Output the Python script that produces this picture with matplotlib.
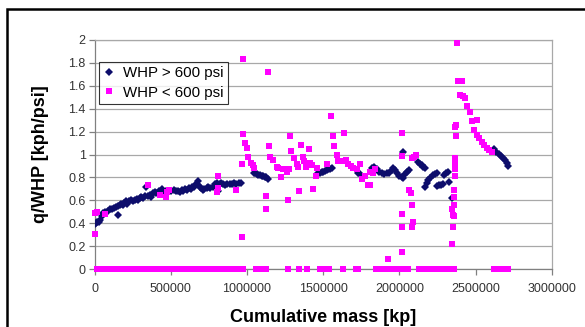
import matplotlib
matplotlib.use("Agg")
import matplotlib.pyplot as plt
from matplotlib.patches import Rectangle

plt.rcParams['font.family'] = ['Liberation Sans', 'DejaVu Sans']

# WHP > 600 psi readings: cumulative mass [kp] and q/WHP [kph/psi]
high_mass = [2000, 8000, 15000, 25000, 35000, 45000, 55000, 70000, 85000, 100000,
             115000, 125000, 140000, 150000, 155000, 165000, 175000, 185000, 195000, 205000,
             215000, 225000, 240000, 250000, 262000, 275000, 285000, 295000, 305000, 315000,
             330000, 340000, 350000, 360000, 370000, 385000, 395000, 405000, 420000, 435000,
             445000, 455000, 470000, 480000, 500000, 520000, 535000, 545000, 560000, 570000,
             580000, 595000, 605000, 620000, 630000, 640000, 650000, 660000, 670000, 680000,
             690000, 700000, 710000, 720000, 735000, 745000, 760000, 775000, 790000, 800000,
             810000, 820000, 830000, 840000, 855000, 870000, 885000, 900000, 915000, 930000,
             945000, 960000,
             1046000, 1055000, 1065000, 1075000, 1085000, 1095000, 1105000, 1115000, 1125000, 1135000,
             1468000, 1479000, 1490000, 1501000, 1512000, 1523000, 1533000, 1544000, 1555000,
             1730000, 1740000,
             1819000, 1834000, 1851000, 1869000, 1884000, 1900000, 1917000, 1935000, 1950000, 1961000,
             1972000, 1983000, 2000000, 2016000, 2027000, 2027000, 2038000, 2053000, 2066000,
             2125000, 2136000, 2147000, 2158000, 2169000,
             2169000, 2180000, 2191000, 2202000, 2219000, 2235000, 2246000,
             2246000, 2257000, 2272000, 2285000, 2294000, 2307000, 2318000, 2325000, 2344000,
             2618000, 2635000, 2651000, 2666000, 2679000, 2694000, 2705000, 2716000]
high_ratio = [0.39, 0.40, 0.41, 0.41, 0.43, 0.46, 0.49, 0.50, 0.51, 0.52,
              0.52, 0.53, 0.54, 0.55, 0.47, 0.56, 0.57, 0.56, 0.58, 0.59,
              0.57, 0.59, 0.60, 0.59, 0.60, 0.61, 0.60, 0.62, 0.63, 0.62,
              0.64, 0.72, 0.64, 0.65, 0.63, 0.66, 0.67, 0.66, 0.68, 0.67,
              0.70, 0.67, 0.68, 0.68, 0.68, 0.69, 0.68, 0.68, 0.67, 0.69,
              0.68, 0.70, 0.69, 0.71, 0.70, 0.72, 0.72, 0.73, 0.74, 0.77,
              0.72, 0.71, 0.69, 0.70, 0.71, 0.72, 0.71, 0.72, 0.74, 0.75,
              0.68, 0.74, 0.75, 0.74, 0.73, 0.74, 0.74, 0.74, 0.75, 0.74,
              0.75, 0.75,
              0.84, 0.835, 0.83, 0.825, 0.82, 0.815, 0.81, 0.80, 0.80, 0.79,
              0.836, 0.842, 0.845, 0.85, 0.859, 0.865, 0.871, 0.874, 0.879,
              0.84, 0.83,
              0.879, 0.888, 0.871, 0.85, 0.835, 0.829, 0.835, 0.841, 0.865, 0.885,
              0.865, 0.835, 0.815, 0.806, 0.792, 1.025, 0.829, 0.85, 0.865,
              0.934, 0.92, 0.905, 0.891, 0.879,
              0.719, 0.748, 0.777, 0.797, 0.817, 0.829, 0.835,
              0.725, 0.734, 0.731, 0.742, 0.82, 0.841, 0.85, 0.763, 0.617,
              1.045, 1.025, 1.004, 0.987, 0.966, 0.952, 0.928, 0.899]

# WHP < 600 psi readings
low_mass = [2000, 2000, 13000, 68000, 352000, 429000, 468000, 477000, 490000, 801000,
            808000, 812000, 928000, 969000, 965000, 976000, 976000, 987000, 998000, 1009000,
            1024000, 1037000, 1046000,
            1125000, 1125000, 1136000, 1146000, 1150000, 1168000, 1194000, 1205000, 1220000, 1238000,
            1260000, 1277000, 1270000, 1282000, 1289000, 1308000, 1326000, 1337000, 1343000, 1352000,
            1365000, 1374000, 1387000, 1404000, 1413000, 1424000, 1435000, 1450000, 1461000, 1524000,
            1549000, 1563000, 1574000, 1590000, 1600000, 1634000, 1634000, 1650000, 1666000, 1681000,
            1698000, 1720000, 1742000, 1753000, 1775000, 1797000, 1808000, 1825000, 1840000, 1808000,
            1928000,
            2020000, 2020000, 2081000, 2097000, 2110000, 2016000, 2020000, 2020000, 2066000, 2075000,
            2081000, 2088000, 2081000,
            2344000, 2345000, 2350000, 2356000, 2352000, 2360000, 2356000, 2358000, 2362000, 2365000,
            2366000, 2368000, 2366000, 2370000, 2373000, 2381000,
            2388000, 2410000, 2399000, 2420000, 2432000, 2442000, 2464000, 2475000, 2508000, 2490000,
            2508000, 2526000, 2541000, 2556000, 2572000, 2590000, 2606000]
low_ratio = [0.31, 0.49, 0.50, 0.48, 0.73, 0.65, 0.63, 0.67, 0.69, 0.67,
             0.71, 0.81, 0.69, 0.28, 0.92, 1.83, 1.18, 1.10, 1.06, 0.98,
             0.93, 0.91, 0.88,
             0.64, 0.52, 1.72, 1.07, 0.98, 0.95, 0.89, 0.88, 0.80, 0.87,
             0.85, 0.87, 0.60, 1.16, 1.03, 0.97, 0.92, 0.89, 0.68, 1.08,
             0.98, 0.94, 0.89, 1.05, 0.93, 0.91, 0.70, 0.81, 0.88, 0.92,
             1.34, 1.16, 1.07, 1.00, 0.94, 1.19, 0.94, 0.95, 0.92, 0.90,
             0.88, 0.87, 0.92, 0.79, 0.81, 0.73, 0.73, 0.84, 0.87, 0.85,
             0.085,
             1.19, 0.99, 0.97, 0.98, 1.00, 0.48, 0.37, 0.15, 0.69, 0.66,
             0.56, 0.41, 0.37,
             0.22, 0.52, 0.47, 0.46, 0.37, 0.69, 0.63, 0.56, 0.81, 0.87,
             0.92, 0.97, 1.24, 1.26, 1.16, 1.97,
             1.64, 1.64, 1.52, 1.51, 1.49, 1.42, 1.37, 1.29, 1.30, 1.21,
             1.17, 1.14, 1.11, 1.08, 1.06, 1.04, 1.02]

# readings where q/WHP was recorded as zero (mass in thousands of kp)
zero_mass_k = [16, 35, 55, 72, 90, 110, 128, 147, 165, 185, 203, 222, 240, 258, 277,
               296, 315, 333, 352, 370, 390, 408, 427, 445, 466, 510, 528, 547, 565, 584,
               603, 622, 640, 660, 678, 697, 716, 734, 752, 770, 790, 808, 827, 845, 864,
               882, 900, 920, 938, 956, 972,
               1057, 1075, 1092, 1110, 1124,
               1270, 1342, 1392,
               1478, 1496, 1514, 1530, 1540,
               1627, 1714, 1731,
               1845, 1863, 1882, 1900, 1918, 1936, 1955, 1973, 1990, 2008, 2026, 2044, 2054,
               2126, 2144, 2162, 2180, 2198, 2216, 2234, 2252, 2270, 2288, 2306, 2324, 2342, 2361,
               2623, 2641, 2660, 2678, 2697, 2715]

x_ticks = [0, 500000, 1000000, 1500000, 2000000, 2500000, 3000000]
y_ticks = [0, 0.2, 0.4, 0.6, 0.8, 1, 1.2, 1.4, 1.6, 1.8, 2]
y_tick_labels = ['0', '0.2', '0.4', '0.6', '0.8', '1', '1.2', '1.4', '1.6', '1.8', '2']

navy = '#0d0d6b'
pink = '#ff00ff'

fig = plt.figure(figsize=(5.85, 3.27), dpi=100)
ax = fig.add_axes([94.7 / 585, 58 / 327, 457 / 585, 229 / 327])

ax.plot(high_mass, high_ratio, linestyle='none', marker='D', markersize=3.7,
        markeredgewidth=0, color=navy, label='WHP > 600 psi', zorder=3)
low_all_mass = low_mass + [m * 1000 for m in zero_mass_k]
low_all_ratio = low_ratio + [0.0] * len(zero_mass_k)
ax.plot(low_all_mass, low_all_ratio, linestyle='none', marker='s', markersize=4.3,
        markeredgewidth=0, color=pink, label='WHP < 600 psi', zorder=4, clip_on=False)

ax.set_xlim(0, 3000000)
ax.set_ylim(0, 2)
ax.set_xticks(x_ticks)
ax.set_xticklabels([str(t) for t in x_ticks])
ax.set_yticks(y_ticks)
ax.set_yticklabels(y_tick_labels)
ax.grid(axis='y', color='#a8a8a8', linewidth=0.9)
ax.set_axisbelow(True)

ax.tick_params(axis='both', direction='out', labelsize=9, labelcolor='#333333',
               color='#808080', width=0.9)
ax.tick_params(axis='x', length=4, pad=6)
ax.tick_params(axis='y', length=4.5, pad=2)
ax.spines['left'].set_color('#808080')
ax.spines['bottom'].set_color('#808080')
ax.spines['right'].set_color('#a8a8a8')
ax.spines['top'].set_color('#a8a8a8')
for s in ax.spines.values():
    s.set_linewidth(0.9)

ax.set_xlabel('Cumulative mass [kp]', fontsize=13, fontweight='bold', labelpad=10)
ax.set_ylabel('q/WHP [kph/psi]', fontsize=13, fontweight='bold', labelpad=14)

leg = ax.legend(loc='upper left', bbox_to_anchor=(0.009, 0.905), borderaxespad=0,
                fontsize=10.8, frameon=True, fancybox=False, handlelength=0.8,
                handletextpad=0.5, labelspacing=0.35, borderpad=0.3, markerscale=1.0)
leg.get_frame().set_edgecolor('#000000')
leg.get_frame().set_linewidth(0.8)

# outer frame (top and left edges show)
fig.add_artist(Rectangle((7 / 585, -0.2), 1.2, 1.2 - 8.5 / 327,
                         transform=fig.transFigure, fill=False,
                         edgecolor='black', linewidth=1.8))

fig.savefig('out.png', dpi=100)
